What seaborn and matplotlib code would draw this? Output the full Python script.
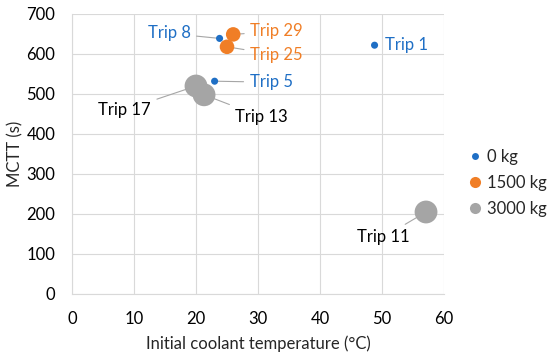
import matplotlib
matplotlib.use("Agg")
import matplotlib.pyplot as plt
from matplotlib.lines import Line2D
import seaborn as sns
import pandas as pd

trips = ["Trip 1", "Trip 8", "Trip 5", "Trip 29", "Trip 25", "Trip 17", "Trip 13", "Trip 11"]
temperature = [48.8, 23.8, 23.0, 26.0, 25.0, 20.0, 21.3, 57.1]
mctt = [622, 639, 532, 649, 618, 520, 498, 205]
mass = ["0 kg", "0 kg", "0 kg", "1500 kg", "1500 kg", "3000 kg", "3000 kg", "3000 kg"]
mass_levels = ["0 kg", "1500 kg", "3000 kg"]
x_ticks = [0, 10, 20, 30, 40, 50, 60]
y_ticks = [0, 100, 200, 300, 400, 500, 600, 700]

colors = {"0 kg": "#1F6FC5", "1500 kg": "#F07E26", "3000 kg": "#A5A5A5"}
sizes = {"0 kg": 26, "1500 kg": 110, "3000 kg": 270}
label_colors = {"0 kg": "#1F6FC5", "1500 kg": "#F07E26", "3000 kg": "#000000"}

df = pd.DataFrame({"trip": trips, "temp": temperature, "mctt": mctt, "mass": mass})

sns.set_style("white")
plt.rcParams["font.family"] = ["Lato", "DejaVu Sans"]
FS = 12

fig = plt.figure(figsize=(5.5, 3.58), dpi=100)
ax = fig.add_axes([72 / 550, 1 - 294 / 358, (444 - 72) / 550, (294 - 14) / 358])

sns.scatterplot(data=df, x="temp", y="mctt", hue="mass", size="mass",
                hue_order=mass_levels, size_order=mass_levels,
                palette=colors, sizes=sizes, linewidth=0, alpha=1,
                legend=False, ax=ax, zorder=3)

# label offsets in pixels (text anchor relative to point)
offsets = {
    "Trip 1": (10, 0, "left"),
    "Trip 8": (-29, 5, "right"),
    "Trip 5": (35, -1, "left"),
    "Trip 29": (17, 3, "left"),
    "Trip 25": (23, -8, "left"),
    "Trip 17": (-45, -24, "right"),
    "Trip 13": (31, -22, "left"),
    "Trip 11": (-16, -25, "right"),
}
for t, x, y, m in zip(trips, temperature, mctt, mass):
    dx, dy, ha = offsets[t]
    arrow = None if t == "Trip 1" else dict(arrowstyle="-", color="#A6A6A6", lw=0.8,
                                            shrinkA=2, shrinkB=0)
    ax.annotate(t, xy=(x, y), xytext=(dx, dy), textcoords="offset pixels",
                ha=ha, va="center", fontsize=FS, color=label_colors[m],
                arrowprops=arrow, zorder=2)

ax.set_xlim(0, 60)
ax.set_ylim(0, 700)
ax.set_xticks(x_ticks)
ax.set_yticks(y_ticks)
ax.grid(True, color="#D9D9D9", lw=0.8)
ax.set_axisbelow(True)
for s in ["top", "right"]:
    ax.spines[s].set_visible(False)
for s in ["left", "bottom"]:
    ax.spines[s].set_color("#D9D9D9")
    ax.spines[s].set_linewidth(0.8)
ax.tick_params(axis="both", length=0, labelsize=FS, colors="#000000")
ax.tick_params(axis="x", pad=12)
ax.tick_params(axis="y", pad=12)
ax.set_xlabel("Initial coolant temperature (°C)", fontsize=FS, labelpad=6)
ax.set_ylabel("MCTT (s)", fontsize=FS, labelpad=2)

handles = [Line2D([], [], marker="o", linestyle="", color=colors[m], markeredgewidth=0,
                  markersize=ms, label=m) for m, ms in zip(mass_levels, [5, 8, 8])]
fig.legend(handles=handles, loc="upper left", bbox_to_anchor=(460 / 550, 1 - 142 / 358),
           frameon=False, fontsize=FS, handletextpad=0.2, labelspacing=0.6,
           handlelength=1.0, borderaxespad=0)

fig.savefig("out.png", dpi=100)
